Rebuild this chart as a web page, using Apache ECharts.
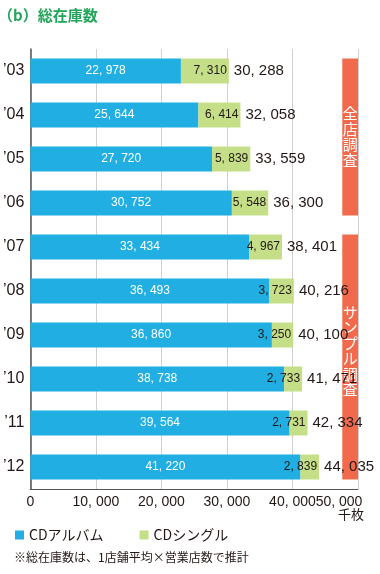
<!DOCTYPE html>
<html><head><meta charset="utf-8">
<script src="https://cdn.jsdelivr.net/npm/echarts@6/dist/echarts.min.js"></script>
<style>html,body{margin:0;padding:0;background:#fff}#c{width:380px;height:574px}</style>
</head><body><div id="c"></div>
<script>
const years = ['’03','’04','’05','’06','’07','’08','’09','’10','’11','’12'];
const album = [22978,25644,27720,30752,33434,36493,36860,38738,39564,41220];
const single = [7310,6414,5839,5548,4967,3723,3250,2733,2731,2839];
const total = [30288,32058,33559,36300,38401,40216,40100,41471,42334,44035];
const xTicks = [0,10000,20000,30000,40000,50000];
const surveyGroups = [{label:'全店調査', from:0, to:3},{label:'サンプル調査', from:4, to:9}];

const NUM = '"Liberation Sans","Noto Sans CJK JP",sans-serif';
const JP = '"Noto Sans CJK JP",sans-serif';
const fmt = v => { const s = String(v); return s.length>3 ? s.slice(0,-3)+', '+s.slice(-3) : s; };
const xMax = xTicks[xTicks.length-1];

const chart = echarts.init(document.getElementById('c'));
const option = {
  animation:false,
  title:{text:'（b）総在庫数', left:-7, top:3, textStyle:{color:'#22A55A', fontSize:15, fontWeight:'bold', fontFamily:JP}},
  grid:{left:28, right:22, top:49, height:440, containLabel:false},
  xAxis:{type:'value', min:0, max:xMax, interval:10000,
    axisLine:{show:true, lineStyle:{color:'#555', width:1}}, axisTick:{show:false},
    splitLine:{show:true, lineStyle:{color:'#d0d0d0', width:1}},
    axisLabel:{color:'#231815', fontSize:14, fontFamily:NUM, margin:6, showMaxLabel:true, hideOverlap:false,
      formatter:v=> v===xMax ? '{r|'+fmt(v)+'}' : fmt(v),
      rich:{r:{fontSize:14, fontFamily:NUM, color:'#231815', padding:[0,0,0,0]}},
      align:'center'}},
  yAxis:{type:'category', data:years, inverse:true,
    axisLine:{show:true, lineStyle:{color:'#555', width:1.5}}, axisTick:{show:false},
    axisLabel:{color:'#231815', fontSize:16, fontFamily:NUM, margin:6}},
  legend:{bottom:27, left:10, itemWidth:9, itemHeight:9, itemGap:36, icon:'rect',
    textStyle:{fontSize:14, color:'#231815', fontFamily:JP},
    data:['CDアルバム','CDシングル']},
  series:[
    {name:'CDアルバム', type:'bar', stack:'t', data:album, barWidth:25, z:3,
      itemStyle:{color:'#21AEE3'},
      label:{show:true, position:'inside', color:'#fff', fontSize:12, fontFamily:NUM, formatter:p=>fmt(p.value)}},
    {name:'CDシングル', type:'bar', stack:'t', data:single, barWidth:25, z:3,
      itemStyle:{color:'#C4DF87'},
      label:{show:true, position:'insideRight', distance:2, color:'#231815', fontSize:12, fontFamily:NUM, formatter:p=>fmt(p.value)}},
    {name:'total', type:'bar', stack:'t', data:total.map(()=>0), barWidth:25, z:3,
      itemStyle:{color:'transparent'},
      label:{show:true, position:'right', distance:5, color:'#231815', fontSize:15, fontFamily:NUM,
        formatter:p=>fmt(total[p.dataIndex])}}
  ]
};
chart.setOption(option);

// shift the last tick label so it ends at the plot's right edge
chart.setOption({xAxis:{axisLabel:{rich:{r:{padding:[0,38,0,0]}}}}});

const g = [];
const x0 = chart.convertToPixel({xAxisIndex:0}, 47600);
const x1 = chart.convertToPixel({xAxisIndex:0}, xMax);
const half = 12.5;
surveyGroups.forEach(s=>{
  const y0 = chart.convertToPixel({yAxisIndex:0}, years[s.from]) - half;
  const y1 = chart.convertToPixel({yAxisIndex:0}, years[s.to]) + half;
  g.push({type:'rect', shape:{x:x0, y:y0, width:x1-x0, height:y1-y0}, style:{fill:'#F06A4B'}, z:1});
  g.push({type:'text', x:(x0+x1)/2, y:(y0+y1)/2 - (s.from>0?6:0), z:1,
    style:{text:s.label.split('').join('\n'), fill:'#fff', fontSize:15, lineHeight:15.5, fontFamily:JP, align:'center', verticalAlign:'middle'}});
});
g.push({type:'text', left:338, top:508, style:{text:'千枚', fill:'#231815', fontSize:13, fontFamily:JP}});
g.push({type:'text', left:14, top:551, style:{text:'※総在庫数は、1店舗平均×営業店数で推計', fill:'#231815', fontSize:12, fontFamily:JP}});
chart.setOption({graphic:g});
</script></body></html>
